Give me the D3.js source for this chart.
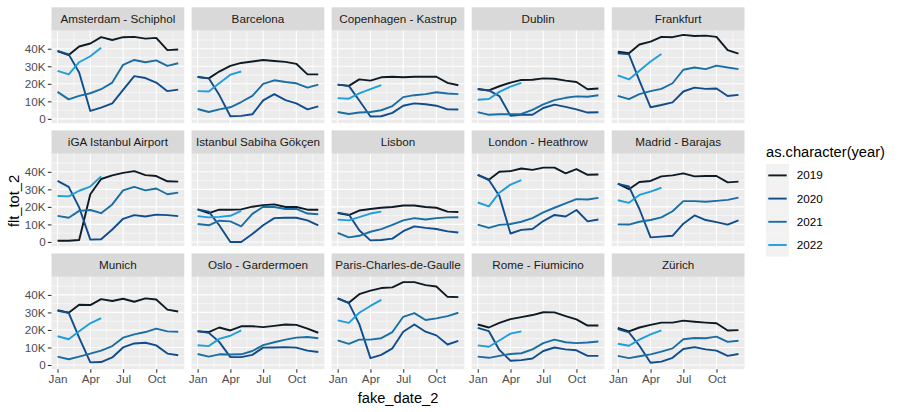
<!DOCTYPE html>
<html>
    <head>
        <meta charset="utf-8">
        <title>flt_tot_2 by airport</title>
        <style>
body {
    margin: 0;
    background-color: white;
    font-family: 'Liberation Sans', Arial, sans-serif;
}

svg text {
    font-family: 'Liberation Sans', Arial, sans-serif;
}

.domain {
    display: none;
}

.tick line {
    stroke: #333333;
    stroke-width: 1.07;
}

.tick text {
    fill: #4d4d4d;
    font-size: 11.7px;
}
</style>
        <script src="https://cdn.jsdelivr.net/npm/d3@7"></script>
    </head>
    <body>
        <script>
var airports = ["Amsterdam - Schiphol", "Barcelona", "Copenhagen - Kastrup", "Dublin", "Frankfurt",
    "iGA Istanbul Airport", "Istanbul Sabiha Gökçen", "Lisbon", "London - Heathrow", "Madrid - Barajas",
    "Munich", "Oslo - Gardermoen", "Paris-Charles-de-Gaulle", "Rome - Fiumicino", "Zürich"];

var years = ["2019", "2020", "2021", "2022"];
var yearColors = ["#0e1a24", "#0f4d8c", "#1a6ea3", "#1e9ddd"];

// month index of every point (0 = Jan)
var months = [0, 1, 2, 3, 4, 5, 6, 7, 8, 9, 10, 11];

var xTickMonths = [0, 3, 6, 9];
var xTickLabels = ["Jan", "Apr", "Jul", "Oct"];
var yTicks = [0, 10, 20, 30, 40];
var yTickLabels = ["0", "10K", "20K", "30K", "40K"];

// thousands of flights, one row per airport (same order as airports)
var v2019 = [
    [38.7, 36.4, 41.3, 43.0, 46.6, 45.0, 46.6, 46.8, 45.8, 46.2, 39.2, 39.6],
    [23.8, 23.1, 27.0, 30.2, 31.9, 32.7, 33.6, 33.0, 32.5, 31.4, 25.4, 25.4],
    [19.5, 18.8, 22.5, 21.8, 23.7, 24.0, 23.7, 24.0, 24.0, 24.0, 20.5, 19.2],
    [17.1, 16.2, 18.6, 20.7, 22.2, 22.3, 23.1, 22.9, 21.8, 21.0, 16.9, 17.3],
    [38.3, 37.4, 42.4, 44.1, 46.8, 46.6, 47.9, 47.3, 47.5, 46.8, 39.2, 37.2],
    [0.7, 0.7, 1.1, 27.2, 35.9, 38.0, 39.4, 40.4, 38.1, 37.6, 34.6, 34.4],
    [18.6, 16.4, 18.4, 18.4, 18.6, 20.1, 21.0, 21.4, 19.9, 19.9, 18.4, 18.4],
    [16.4, 15.3, 17.9, 18.8, 19.5, 19.9, 20.8, 20.8, 19.9, 19.5, 17.3, 17.1],
    [38.3, 35.5, 40.0, 40.4, 41.9, 41.1, 42.4, 42.4, 39.1, 41.5, 38.3, 38.5],
    [33.3, 30.1, 34.2, 34.8, 37.4, 38.0, 39.1, 37.4, 37.6, 37.6, 34.0, 34.4],
    [31.3, 29.8, 34.4, 34.2, 37.6, 36.5, 37.8, 36.1, 38.0, 37.4, 31.6, 30.5],
    [19.2, 18.8, 21.4, 19.7, 22.1, 22.1, 21.6, 22.3, 23.1, 22.9, 20.7, 18.4],
    [38.0, 35.5, 40.4, 42.4, 43.9, 44.3, 47.3, 47.3, 45.6, 44.8, 38.9, 38.7],
    [23.1, 21.4, 24.0, 26.2, 27.3, 28.5, 30.1, 30.0, 27.9, 26.0, 22.5, 22.5],
    [21.2, 19.2, 21.4, 22.9, 24.2, 24.2, 25.3, 24.7, 24.2, 23.8, 19.7, 19.9]
];

var v2020 = [
    [38.7, 36.8, 26.5, 4.5, 6.4, 8.8, 16.5, 24.4, 23.3, 20.7, 15.8, 16.7],
    [24.0, 23.1, 13.7, 1.5, 1.7, 2.6, 10.5, 14.1, 10.7, 8.8, 5.4, 7.1],
    [19.5, 18.8, 10.5, 1.3, 1.5, 3.4, 7.5, 8.8, 8.3, 7.5, 5.4, 5.3],
    [16.9, 16.2, 13.0, 1.7, 2.3, 2.3, 6.2, 8.1, 6.8, 5.4, 3.6, 3.8],
    [37.4, 36.8, 21.8, 6.6, 7.9, 9.4, 15.6, 17.8, 17.1, 17.3, 13.0, 13.7],
    [34.8, 31.4, 19.7, 1.3, 1.5, 7.1, 13.2, 15.3, 14.5, 15.6, 15.3, 14.7],
    [18.6, 17.3, 9.5, 0.0, 0.0, 4.5, 9.5, 13.6, 13.8, 13.8, 12.3, 9.5],
    [16.7, 15.6, 6.7, 0.9, 1.1, 1.9, 6.1, 8.9, 8.0, 7.4, 6.0, 5.4],
    [38.3, 35.3, 26.2, 4.8, 6.9, 7.4, 11.9, 15.4, 14.5, 18.2, 11.7, 12.8],
    [33.1, 31.6, 18.8, 2.6, 3.0, 3.5, 10.4, 15.1, 12.5, 11.3, 9.9, 12.3],
    [30.9, 29.8, 15.6, 1.5, 1.7, 4.3, 10.0, 12.3, 12.7, 11.2, 6.5, 5.6],
    [19.3, 18.4, 13.2, 4.5, 4.5, 5.8, 9.9, 10.0, 10.2, 9.9, 8.2, 7.4],
    [38.0, 35.3, 23.3, 3.9, 5.8, 9.5, 19.0, 23.1, 19.0, 16.9, 11.7, 13.8],
    [21.2, 19.3, 8.6, 2.4, 2.8, 3.7, 8.0, 10.0, 8.9, 8.4, 5.2, 5.2],
    [20.5, 18.6, 11.0, 1.3, 1.9, 4.1, 9.1, 10.2, 8.9, 8.2, 5.2, 6.3]
];

var v2021 = [
    [15.4, 11.1, 13.1, 14.6, 16.9, 20.7, 30.8, 33.6, 32.3, 33.4, 30.2, 31.7],
    [5.6, 3.9, 5.4, 6.6, 9.6, 13.1, 19.9, 22.0, 21.0, 20.3, 17.8, 19.5],
    [3.9, 2.8, 3.6, 3.9, 4.9, 7.3, 12.4, 13.5, 14.1, 15.2, 14.5, 14.1],
    [3.8, 2.3, 2.6, 2.6, 2.8, 5.1, 8.3, 10.7, 12.0, 12.8, 12.6, 13.5],
    [13.1, 11.3, 14.1, 15.8, 17.1, 20.3, 28.0, 29.3, 28.4, 30.4, 29.3, 28.4],
    [14.9, 13.8, 17.7, 18.2, 16.4, 21.4, 29.4, 31.4, 29.4, 30.5, 27.2, 28.1],
    [10.2, 9.5, 12.1, 11.7, 8.9, 16.0, 20.1, 19.9, 18.8, 18.8, 16.2, 15.8],
    [5.2, 2.6, 3.5, 5.8, 7.3, 9.7, 12.3, 13.6, 12.8, 13.6, 14.0, 14.1],
    [9.9, 8.0, 9.7, 10.2, 11.5, 13.6, 16.9, 19.5, 22.0, 24.4, 24.2, 25.1],
    [10.0, 9.9, 11.5, 12.5, 14.0, 17.5, 23.3, 23.3, 22.9, 23.4, 24.0, 25.3],
    [4.8, 3.3, 4.8, 6.5, 8.2, 10.8, 15.6, 17.5, 18.8, 20.8, 19.2, 19.0],
    [6.3, 4.8, 6.1, 6.0, 6.1, 8.0, 11.3, 13.0, 14.5, 15.6, 16.0, 15.3],
    [14.1, 12.1, 14.5, 14.5, 15.3, 18.8, 27.5, 29.6, 25.7, 26.6, 27.9, 29.8],
    [4.8, 4.1, 5.2, 6.3, 6.7, 8.9, 12.5, 14.5, 13.0, 12.5, 12.8, 13.4],
    [5.2, 3.9, 5.0, 6.1, 7.6, 9.5, 14.7, 15.4, 15.3, 16.2, 13.2, 13.8]
];

// 2022 only runs Jan - May
var v2022 = [
    [27.4, 25.4, 32.3, 35.7, 40.6],
    [15.8, 15.6, 20.3, 25.2, 27.0],
    [11.8, 11.5, 14.5, 16.9, 19.2],
    [10.9, 11.3, 15.4, 18.4, 20.5],
    [24.8, 22.5, 27.4, 32.7, 37.0],
    [26.2, 26.0, 29.2, 31.6, 37.4],
    [14.7, 14.0, 14.3, 14.9, 17.7],
    [12.7, 12.3, 14.1, 16.2, 17.3],
    [22.5, 20.3, 28.1, 32.7, 35.3],
    [23.8, 22.3, 26.8, 28.7, 30.9],
    [16.4, 14.7, 19.2, 23.8, 26.8],
    [11.3, 10.8, 14.9, 16.7, 19.7],
    [25.5, 24.0, 29.8, 33.7, 37.2],
    [11.2, 10.4, 14.0, 17.9, 19.2],
    [12.1, 11.0, 14.5, 17.5, 19.7]
];

var series = [v2019, v2020, v2021, v2022];

var width = 900,
    height = 412;

var svg = d3.select('body')
    .append('svg')
    .attr('width', width)
    .attr('height', height);

var nCols = 5, nRows = 3;
var gridLeft = 51.5, gridRight = 744.5, gridTop = 7.3, gridBottom = 369.2;
var gap = 7.33, stripH = 23.4;
var panelW = (gridRight - gridLeft - gap * (nCols - 1)) / nCols;
var panelH = (gridBottom - gridTop - gap * (nRows - 1)) / nRows - stripH;

var monthDate = function (m) { return new Date(Date.UTC(2000, m, 1)); };

// ggplot style 5% expansion on both axes
var d0 = monthDate(0), d1 = monthDate(11);
var pad = (d1 - d0) * 0.05;
var x = d3.scaleUtc()
    .domain([new Date(+d0 - pad), new Date(+d1 + pad)])
    .range([0, panelW]);

var yMax = d3.max(series, function (s) { return d3.max(s, function (r) { return d3.max(r); }); });
var y = d3.scaleLinear()
    .domain([-yMax * 0.05, yMax * 1.05])
    .range([panelH, 0]);

var xMajor = xTickMonths.map(monthDate);
var xMinor = xMajor.map(function (d, i) {
    var next = i < xMajor.length - 1 ? xMajor[i + 1] : monthDate(12);
    return new Date((+d + +next) / 2);
});
var yMinor = yTicks.map(function (t) { return t + 5; });

var line = d3.line()
    .x(function (d, i) { return x(monthDate(months[i])); })
    .y(function (d) { return y(d); });

airports.forEach(function (name, k) {
    var col = k % nCols, row = Math.floor(k / nCols);
    var px = gridLeft + col * (panelW + gap);
    var py = gridTop + row * (stripH + panelH + gap);

    var g = svg.append('g')
        .attr('transform', 'translate(' + px + ',' + py + ')');

    // strip
    g.append('rect')
        .attr('width', panelW)
        .attr('height', stripH)
        .style('fill', '#d9d9d9');

    g.append('text')
        .attr('x', panelW / 2)
        .attr('y', stripH / 2)
        .attr('dy', '0.35em')
        .attr('text-anchor', 'middle')
        .style('font-size', '11.7px')
        .style('fill', '#1a1a1a')
        .text(name);

    var p = g.append('g')
        .attr('transform', 'translate(0,' + stripH + ')');

    p.append('rect')
        .attr('width', panelW)
        .attr('height', panelH)
        .style('fill', '#ebebeb');

    p.selectAll('.yminor').data(yMinor).enter().append('line')
        .attr('x1', 0).attr('x2', panelW)
        .attr('y1', y).attr('y2', y)
        .style('stroke', 'white').style('stroke-width', 0.55);

    p.selectAll('.xminor').data(xMinor).enter().append('line')
        .attr('x1', x).attr('x2', x)
        .attr('y1', 0).attr('y2', panelH)
        .style('stroke', 'white').style('stroke-width', 0.55);

    p.selectAll('.ymajor').data(yTicks).enter().append('line')
        .attr('x1', 0).attr('x2', panelW)
        .attr('y1', y).attr('y2', y)
        .style('stroke', 'white').style('stroke-width', 1.1);

    p.selectAll('.xmajor').data(xMajor).enter().append('line')
        .attr('x1', x).attr('x2', x)
        .attr('y1', 0).attr('y2', panelH)
        .style('stroke', 'white').style('stroke-width', 1.1);

    series.forEach(function (s, j) {
        p.append('path')
            .datum(s[k])
            .attr('d', line)
            .style('fill', 'none')
            .style('stroke', yearColors[j])
            .style('stroke-width', 1.9)
            .style('stroke-linejoin', 'round');
    });

    if (col === 0) {
        p.append('g')
            .call(d3.axisLeft(y)
                .tickValues(yTicks)
                .tickFormat(function (d, i) { return yTickLabels[i]; })
                .tickSize(3.67)
                .tickPadding(2.2));
    }

    // bottom axis on the last row, and on panels with nothing below them
    if (row === nRows - 1 || k + nCols >= airports.length) {
        p.append('g')
            .attr('transform', 'translate(0,' + panelH + ')')
            .call(d3.axisBottom(x)
                .tickValues(xMajor)
                .tickFormat(function (d, i) { return xTickLabels[i]; })
                .tickSize(3.67)
                .tickPadding(2.2));
    }
});

svg.selectAll('.tick text').style('font-size', '11.7px').style('fill', '#4d4d4d')
    .style('font-family', "'Liberation Sans', Arial, sans-serif");

// axis titles
svg.append('text')
    .attr('x', (gridLeft + gridRight) / 2)
    .attr('y', 403)
    .attr('text-anchor', 'middle')
    .style('font-size', '14.67px')
    .style('fill', 'black')
    .text('fake_date_2');

svg.append('text')
    .attr('transform', 'translate(19,201) rotate(-90)')
    .attr('text-anchor', 'middle')
    .style('font-size', '14.67px')
    .style('fill', 'black')
    .text('flt_tot_2');

// legend
var legend = svg.append('g')
    .attr('transform', 'translate(766,0)');

legend.append('text')
    .attr('x', 0)
    .attr('y', 157)
    .style('font-size', '14.67px')
    .style('fill', 'black')
    .text('as.character(year)');

var keySize = 23.2, keyTop = 163.8;

var keys = legend.selectAll('.key')
    .data(years)
    .enter().append('g')
    .attr('transform', function (d, i) { return 'translate(0,' + (keyTop + i * keySize) + ')'; });

keys.append('rect')
    .attr('width', 23)
    .attr('height', keySize)
    .style('fill', '#f2f2f2');

keys.append('line')
    .attr('x1', 2.3).attr('x2', 20.7)
    .attr('y1', keySize / 2).attr('y2', keySize / 2)
    .style('stroke', function (d, i) { return yearColors[i]; })
    .style('stroke-width', 1.9);

keys.append('text')
    .attr('x', 30.7)
    .attr('y', keySize / 2)
    .attr('dy', '0.35em')
    .style('font-size', '11.7px')
    .style('fill', 'black')
    .text(function (d) { return d; });

        </script>
    </body>
</html>
